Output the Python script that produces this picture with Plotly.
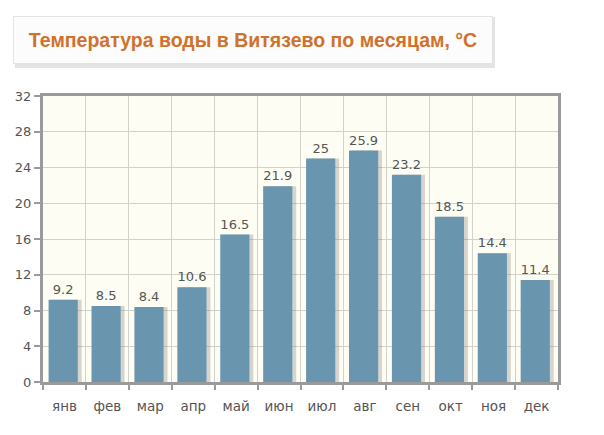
import plotly.graph_objects as go

months = ["янв", "фев", "мар", "апр", "май", "июн", "июл", "авг", "сен", "окт", "ноя", "дек"]
temps = [9.2, 8.5, 8.4, 10.6, 16.5, 21.9, 25, 25.9, 23.2, 18.5, 14.4, 11.4]
y_ticks = [0, 4, 8, 12, 16, 20, 24, 28, 32]
title_text = "Температура воды в Витязево по месяцам, °C"

fig = go.Figure()
# soft shadow behind bars
fig.add_trace(go.Bar(
    x=months, y=temps, width=0.70, offset=-0.30,
    marker=dict(color="rgba(120,120,120,0.30)", line=dict(width=0)),
    hoverinfo="skip", showlegend=False,
))
fig.add_trace(go.Bar(
    x=months, y=temps, width=0.68, offset=-0.37,
    marker=dict(color="#6A95AE", line=dict(width=0)),
    text=[f"{v:g}" for v in temps], textposition="outside",
    textfont=dict(family="DejaVu Sans", size=13, color="#555555"),
    cliponaxis=False, showlegend=False,
))

fig.update_layout(
    width=604, height=435,
    margin=dict(l=43, r=46, t=96, b=53, autoexpand=False),
    paper_bgcolor="white", plot_bgcolor="#FEFDF4",
    barmode="overlay",
    font=dict(family="DejaVu Sans", color="#555555"),
    xaxis=dict(
        type="category", tickson="boundaries", showgrid=True,
        gridcolor="#D2D2CC", gridwidth=1,
        showline=True, linecolor="#9A9A9A", linewidth=3, mirror=True,
        ticks="outside", ticklen=5, tickcolor="#9A9A9A", tickwidth=2,
        tickfont=dict(size=13.5, color="#555555"), ticklabelstandoff=10,
        automargin=False,
    ),
    yaxis=dict(
        range=[0, 32], tickvals=y_ticks, showgrid=True,
        gridcolor="#D2D2CC", gridwidth=1,
        showline=True, linecolor="#9A9A9A", linewidth=3, mirror=True,
        ticks="outside", ticklen=6, tickcolor="#9A9A9A", tickwidth=2,
        tickfont=dict(size=13, color="#555555"), zeroline=False,
        automargin=False,
    ),
    shapes=[dict(
        type="rect", xref="paper", yref="paper",
        x0=(15 - 43) / 515, x1=(495 - 43) / 515,
        y0=1 + (96 - 68) / 286, y1=1 + (96 - 17) / 286,
        fillcolor="#E4E4E4", line=dict(width=0), layer="below",
    )],
    annotations=[dict(
        text="<b>" + title_text + "</b>", xref="paper", yref="paper",
        x=(253 - 43) / 515, y=1 + (96 - 40) / 286,
        xanchor="center", yanchor="middle", showarrow=False,
        width=474, height=42, bgcolor="#FCFCFC",
        bordercolor="#E2E2E2", borderwidth=1, borderpad=2,
        font=dict(family="Liberation Sans", size=19.5, color="#D0712C"),
    )],
)

fig.write_html("out.html", config={"displayModeBar": False})
with open("out.html", encoding="utf-8") as f:
    html = f.read()
html = html.replace("<head>", "<head><style>html,body{margin:0;padding:0;}</style>", 1)
with open("out.html", "w", encoding="utf-8") as f:
    f.write(html)
